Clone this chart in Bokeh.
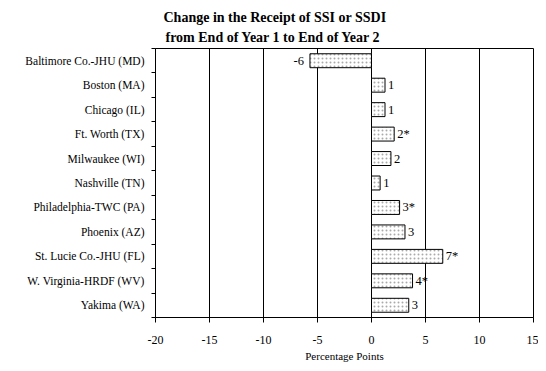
from bokeh.plotting import figure
from bokeh.models import Range1d, FixedTicker, Title, ColumnDataSource
from bokeh.embed import file_html
from bokeh.resources import INLINE
from bokeh.core.properties import value

sites = ["Baltimore Co.-JHU (MD)", "Boston (MA)", "Chicago (IL)", "Ft. Worth (TX)",
         "Milwaukee (WI)", "Nashville (TN)", "Philadelphia-TWC (PA)", "Phoenix (AZ)",
         "St. Lucie Co.-JHU (FL)", "W. Virginia-HRDF (WV)", "Yakima (WA)"]
changes = [-5.7, 1.25, 1.25, 2.1, 1.8, 0.8, 2.6, 3.1, 6.6, 3.8, 3.45]
value_labels = ["-6", "1", "1", "2*", "2", "1", "3*", "3", "7*", "4*", "3"]
x_ticks = [-20, -15, -10, -5, 0, 5, 10, 15]
title_lines = ["Change in the Receipt of SSI or SSDI", "from End of Year 1 to End of Year 2"]
x_title = "Percentage Points"

FONT = "'Liberation Serif'"
n = len(sites)
pos = list(range(n))

p = figure(width=538, height=369, output_backend="svg", toolbar_location=None,
           x_range=Range1d(-20, 15), y_range=Range1d(n - 0.5, -0.5),
           min_border_left=155, min_border_right=5, min_border_top=48, min_border_bottom=52)
p.outline_line_color = "black"
p.outline_line_width = 1
p.background_fill_color = "white"
p.border_fill_color = "white"
p.ygrid.visible = False
p.xgrid.ticker = FixedTicker(ticks=x_ticks)
p.xgrid.grid_line_color = "black"
p.xgrid.grid_line_width = 1

left = [min(v, 0) for v in changes]
right = [max(v, 0) for v in changes]
src = ColumnDataSource(dict(y=pos, left=left, right=right))
p.hbar(y="y", left="left", right="right", height=0.57, source=src,
       fill_color="white", line_color="black", line_width=1,
       hatch_pattern="dot", hatch_color="#aaaaaa", hatch_scale=4, hatch_weight=1)

pos_idx = [i for i in range(n) if changes[i] >= 0]
neg_idx = [i for i in range(n) if changes[i] < 0]
pos_src = ColumnDataSource(dict(y=[pos[i] for i in pos_idx], x=[changes[i] for i in pos_idx],
                                t=[value_labels[i] for i in pos_idx]))
neg_src = ColumnDataSource(dict(y=[pos[i] for i in neg_idx], x=[changes[i] for i in neg_idx],
                                t=[value_labels[i] for i in neg_idx]))
p.text(x="x", y="y", text="t", source=pos_src, x_offset=3, text_align="left",
       text_baseline="middle", text_font=value(FONT), text_font_size="12.5px", text_color="black")
p.text(x="x", y="y", text="t", source=neg_src, x_offset=-6, text_align="right",
       text_baseline="middle", text_font=value(FONT), text_font_size="12.5px", text_color="black")

xa = p.xaxis[0]
xa.ticker = FixedTicker(ticks=x_ticks)
xa.major_label_overrides = {t: str(t) for t in x_ticks}
xa.major_tick_out = 5
xa.major_tick_in = 0
xa.minor_tick_out = 0
xa.minor_tick_in = 0
xa.axis_line_color = "black"
xa.major_tick_line_color = "black"
xa.major_label_text_font = FONT
xa.major_label_text_font_size = "12px"
xa.major_label_text_color = "black"
xa.major_label_standoff = 13
xa.axis_label = x_title
xa.axis_label_text_font = FONT
xa.axis_label_text_font_size = "11px"
xa.axis_label_text_font_style = "normal"
xa.axis_label_text_color = "black"
xa.axis_label_standoff = 3

ya = p.yaxis[0]
ya.ticker = FixedTicker(ticks=pos, minor_ticks=[i - 0.5 for i in range(n + 1)])
ya.major_label_overrides = {i: s for i, s in enumerate(sites)}
ya.major_tick_out = 0
ya.major_tick_in = 0
ya.minor_tick_out = 4
ya.minor_tick_in = 0
ya.minor_tick_line_color = "black"
ya.axis_line_color = "black"
ya.major_label_text_font = FONT
ya.major_label_text_font_size = "11.5px"
ya.major_label_text_color = "black"
ya.major_label_standoff = 7

for k, line in enumerate(reversed(title_lines)):
    p.add_layout(Title(text=line, align="left", offset=8 + 2 * (1 - k),
                       text_font=FONT, text_font_size="14px", text_font_style="bold",
                       text_color="black", standoff=7 if k == 0 else 0), "above")

open("out.html", "w").write(file_html(p, INLINE))
